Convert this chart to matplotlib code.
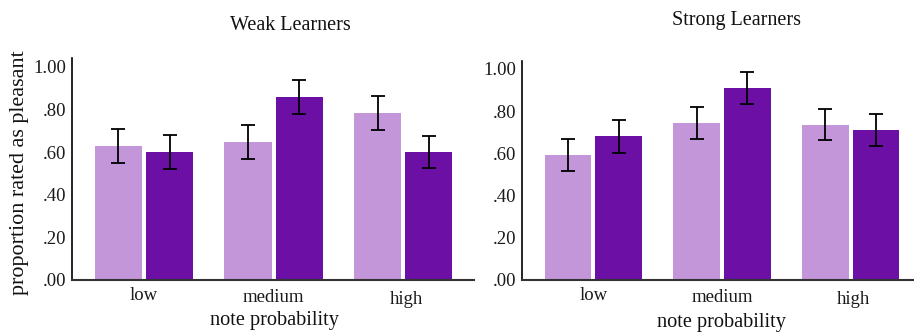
import matplotlib
matplotlib.use("Agg")
import matplotlib.pyplot as plt
import matplotlib.transforms as mtransforms
import numpy as np

plt.rcParams['font.family'] = ['Liberation Serif', 'DejaVu Serif']

categories = ["low", "medium", "high"]
yticks = [0.0, 0.2, 0.4, 0.6, 0.8, 1.0]
ytick_labels = [".00", ".20", ".40", ".60", ".80", "1.00"]

weak_light = [0.629, 0.648, 0.784]
weak_light_err = [0.079, 0.079, 0.078]
weak_dark = [0.601, 0.859, 0.601]
weak_dark_err = [0.079, 0.078, 0.077]

strong_light = [0.592, 0.744, 0.735]
strong_light_err = [0.076, 0.076, 0.074]
strong_dark = [0.682, 0.910, 0.711]
strong_dark_err = [0.078, 0.076, 0.075]

titles = ["Weak Learners", "Strong Learners"]
LIGHT = "#C396DA"
DARK = "#6B0FA5"

W, H = 914, 333
fig = plt.figure(figsize=(W/100, H/100), dpi=100)

panels = [
    dict(rect=[72/W, 1-280/H, 402/W, 222/H], xlim=(-0.556, 2.548), ylim=(0, 1.042),
         light=weak_light, le=weak_light_err, dark=weak_dark, de=weak_dark_err,
         title=titles[0], tx=290/W, ty=1-25/H, lx=274/W, ly=1-321/H, ylabel=True),
    dict(rect=[522/W, 1-280/H, 392/W, 219.3/H], xlim=(-0.556, 2.494), ylim=(0, 1.039),
         light=strong_light, le=strong_light_err, dark=strong_dark, de=strong_dark_err,
         title=titles[1], tx=737/W, ty=1-20/H, lx=721/W, ly=1-322/H, ylabel=False),
]

# small per-label nudges (pixels) seen in the reference rendering
label_dx = [0, 0, 3]
label_dy = [0, -2, -4]

x = np.arange(len(categories))
bw = 0.363
off = 0.197
for p in panels:
    ax = fig.add_axes(p['rect'])
    ax.bar(x - off, p['light'], bw, color=LIGHT, zorder=2)
    ax.bar(x + off, p['dark'], bw, color=DARK, zorder=2)
    ax.errorbar(x - off, p['light'], yerr=p['le'], fmt='none', ecolor='black',
                elinewidth=1.3, capsize=4.7, capthick=1.3, zorder=3)
    ax.errorbar(x + off, p['dark'], yerr=p['de'], fmt='none', ecolor='black',
                elinewidth=1.3, capsize=4.7, capthick=1.3, zorder=3)
    ax.set_xlim(*p['xlim'])
    ax.set_ylim(*p['ylim'])
    ax.set_yticks(yticks)
    ax.set_yticklabels(ytick_labels)
    ax.set_xticks(x)
    ax.set_xticklabels(categories)
    ax.tick_params(axis='both', length=0, labelsize=13.5, colors='#1a1a1a')
    ax.tick_params(axis='y', pad=4)
    ax.tick_params(axis='x', pad=5)
    for lab, dx, dy in zip(ax.get_xticklabels(), label_dx, label_dy):
        lab.set_transform(lab.get_transform() +
                          mtransforms.ScaledTranslation(dx/100, dy/100, fig.dpi_scale_trans))
    for s in ['top', 'right']:
        ax.spines[s].set_visible(False)
    ax.spines['left'].set_linewidth(1.2)
    ax.spines['bottom'].set_linewidth(1.5)
    ax.spines['bottom'].set_color('#333333')
    fig.text(p['tx'], p['ty'], p['title'], ha='center', va='center', fontsize=14.5, color='#111111')
    fig.text(p['lx'], p['ly'], "note probability", ha='center', va='center', fontsize=14.6, color='#111111')
    if p['ylabel']:
        fig.text(20/W, 1-173/H, "proportion rated as pleasant", ha='center', va='center',
                 rotation=90, fontsize=15.9, color='#111111')

fig.savefig("out.png", dpi=100)
